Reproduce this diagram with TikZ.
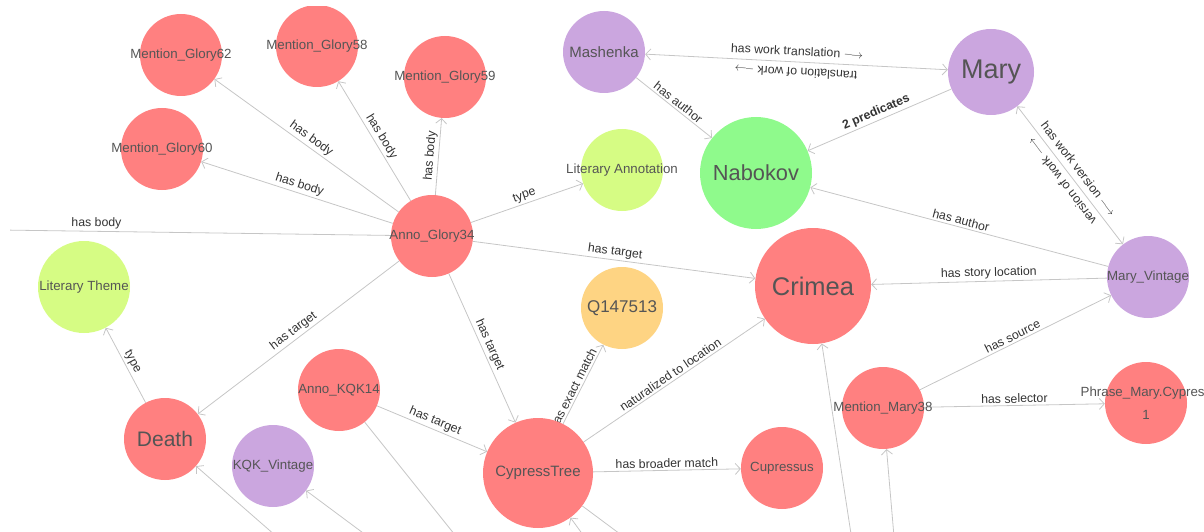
\documentclass[tikz,border=0pt]{standalone}
\usepackage{fontspec}
\setmainfont{Liberation Sans}
\usetikzlibrary{arrows.meta,backgrounds}
\definecolor{annored}{HTML}{FF8080}
\definecolor{worklilac}{HTML}{CBA6DF}
\definecolor{authgreen}{HTML}{8FFA8C}
\definecolor{typelime}{HTML}{D6FC84}
\definecolor{wikisand}{HTML}{FED483}
\definecolor{wire}{HTML}{C6C6C6}
\definecolor{ink}{HTML}{333333}
\definecolor{inkl}{HTML}{555555}
\newcommand{\nm}[1]{\makebox[0pt]{#1}}
\newcommand{\fs}[1]{\fontsize{#1}{#1}\selectfont}
\tikzset{
  ent/.style={circle,minimum size=82pt,inner sep=0pt,text=inkl,font=\fs{13.3}},
  link/.style={draw=wire,line width=0.8pt,>={Straight Barb[length=5pt,width=11pt]}},
  lbl/.style={sloped,above=0.5pt,inner sep=1.5pt,text=ink,font=\fs{12.3}},
  pair/.style={lbl,above=4pt},
}
\begin{document}
\begin{tikzpicture}
  [x=1pt,y=-1pt]
  \useasboundingbox (0,0) rectangle (1204,532);
  \clip (10,7) rectangle (1204,532);
  \node (g62)[ent,fill=annored] at (181,55) {\nm{Mention\_Glory62}};
  \node (g58)[ent,fill=annored] at (317,46) {\nm{Mention\_Glory58}};
  \node (g59)[ent,fill=annored] at (445,77) {\nm{Mention\_Glory59}};
  \node (g60)[ent,fill=annored] at (162,149) {\nm{Mention\_Glory60}};
  \node (g34)[ent,fill=annored] at (432,236) {\nm{Anno\_Glory34}};
  \node (litann)[ent,fill=typelime] at (622,170) {\nm{Literary Annotation}};
  \node (littheme)[ent,fill=typelime,minimum size=92pt] at (84,287) {\nm{Literary Theme}};
  \node (mashenka)[ent,fill=worklilac,font=\fs{15}] at (604,52) {\nm{Mashenka}};
  \node (mary)[ent,fill=worklilac,minimum size=86pt,font=\fs{27}] at (991,72) {\nm{Mary}};
  \node (nabokov)[ent,fill=authgreen,minimum size=112pt,font=\fs{21.8}] at (756,173) {\nm{Nabokov}};
  \node (maryv)[ent,fill=worklilac] at (1148,277) {\nm{Mary\_Vintage}};
  \node (crimea)[ent,fill=annored,minimum size=116pt,font=\fs{25.5}] at (813,286) {\nm{Crimea}};
  \node (q147)[ent,fill=wikisand,font=\fs{17}] at (622,308) {\nm{Q147513}};
  \node (death)[ent,fill=annored,font=\fs{21}] at (165,439) {\nm{Death}};
  \node (kqk14)[ent,fill=annored] at (339,390) {\nm{Anno\_KQK14}};
  \node (kqkv)[ent,fill=worklilac] at (273,466) {\nm{KQK\_Vintage}};
  \node (cypress)[ent,fill=annored,minimum size=110pt,font=\fs{15}] at (538,473) {\nm{CypressTree}};
  \node (cupr)[ent,fill=annored] at (782,468) {\nm{Cupressus}};
  \node (mm38)[ent,fill=annored] at (883,408) {\nm{Mention\_Mary38}};
  \node (phrase)[ent,fill=annored] at (1146,403) {\nm{\shortstack{Phrase\_Mary.Cypress\\[8pt]1}}};
  \coordinate (offL) at (-100,228.6);
  \coordinate (offD) at (292,550);
  \coordinate (offK) at (386,550);
  \coordinate (offA) at (491,580);
  \coordinate (offC) at (594,550);
  \coordinate (offB) at (655,560);
  \coordinate (offCr) at (855,560);
  \coordinate (offM) at (896,560);
  \begin{scope}[on background layer]
  \clip (10,7) rectangle (1204,532);
  \foreach \from/\to/\p/\lab in {g34/g62/.5/has body,g34/g58/.5/has body,g34/g59/.5/has body,
    g34/g60/.5/has body,g34/litann/.5/type,g34/crimea/.5/has target,g34/death/.5/has target,
    g34/cypress/.5/has target,death/littheme/.5/type,kqk14/cypress/.5/has target,
    cypress/q147/.4/has exact match,cypress/crimea/.5/naturalized to location,
    cypress/cupr/.5/has broader match,mashenka/nabokov/.5/has author,
    mary/nabokov/.5/\textbf{2 predicates},maryv/nabokov/.5/has author,
    maryv/crimea/.5/has story location,mm38/maryv/.5/has source,mm38/phrase/.5/has selector}
    \draw[link,->] (\from) -- node[lbl,pos=\p] {\lab} (\to);
  \draw[link] (g34) -- node[lbl,pos=.6] {has body} (offL);
  \draw[link,<->] (mashenka) -- node[pair] {has work translation $\longrightarrow$} (mary);
  \path (mary) -- node[pair,allow upside down] {translation of work $\longrightarrow$} (mashenka);
  \draw[link,<->] (mary) -- node[pair] {has work version $\longrightarrow$} (maryv);
  \path (maryv) -- node[pair,allow upside down] {version of work $\longrightarrow$} (mary);
  \foreach \from/\to in {offD/death,offK/kqkv,offC/cypress,offCr/crimea,offM/mm38,kqk14/offA,cypress/offB}
    \draw[link,->] (\from) -- (\to);
  \end{scope}
\end{tikzpicture}
\end{document}
